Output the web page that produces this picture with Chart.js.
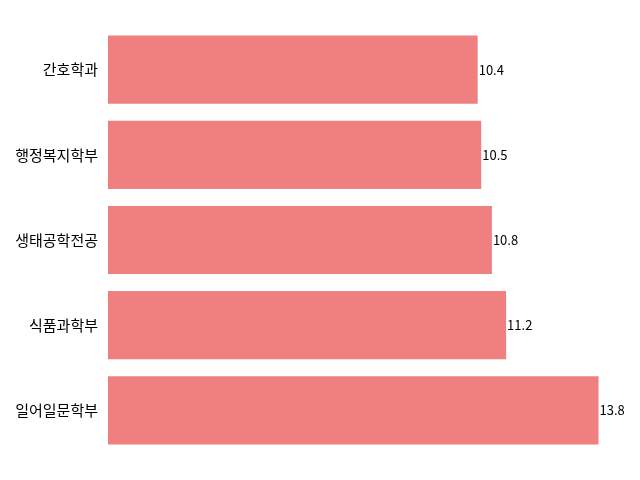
<!DOCTYPE html>
<html>
<head>
<meta charset="utf-8">
<script src="https://cdn.jsdelivr.net/npm/chart.js@4/dist/chart.umd.min.js"></script>
<style>
  body { margin: 0; background: #fff; }
  #wrap { width: 640px; height: 480px; }
</style>
</head>
<body>
<div id="wrap"><canvas id="chart"></canvas></div>
<script>
const departments = ["간호학과", "행정복지학부", "생태공학전공", "식품과학부", "일어일문학부"];
const values = [10.4, 10.5, 10.8, 11.2, 13.8];

const FONT = "'Noto Sans CJK KR', 'Noto Sans', sans-serif";

// draws the number at the end of each bar
const valueLabels = {
  id: "valueLabels",
  afterDatasetsDraw(chart) {
    const ctx = chart.ctx;
    const meta = chart.getDatasetMeta(0);
    ctx.save();
    ctx.font = "13px " + FONT;
    ctx.fillStyle = "#000";
    ctx.textAlign = "left";
    ctx.textBaseline = "middle";
    meta.data.forEach((bar, i) => {
      ctx.fillText(values[i].toFixed(1), bar.x + 1, bar.y);
    });
    ctx.restore();
  }
};

new Chart(document.getElementById("chart"), {
  type: "bar",
  data: {
    labels: departments,
    datasets: [{
      data: values,
      backgroundColor: "#F08080",
      barPercentage: 0.8,
      categoryPercentage: 1.0
    }]
  },
  options: {
    indexAxis: "y",
    responsive: true,
    maintainAspectRatio: false,
    animation: false,
    layout: { padding: { top: 27, bottom: 27, right: 18, left: 0 } },
    plugins: {
      legend: { display: false },
      tooltip: { enabled: false }
    },
    scales: {
      x: {
        display: false,
        min: 0,
        max: 14.46
      },
      y: {
        grid: { display: false, drawTicks: false },
        border: { display: false },
        ticks: {
          color: "#000",
          padding: 10,
          font: { family: FONT, size: 15 }
        },
        afterFit(scale) { scale.width = 108; }
      }
    }
  },
  plugins: [valueLabels]
});
</script>
</body>
</html>
